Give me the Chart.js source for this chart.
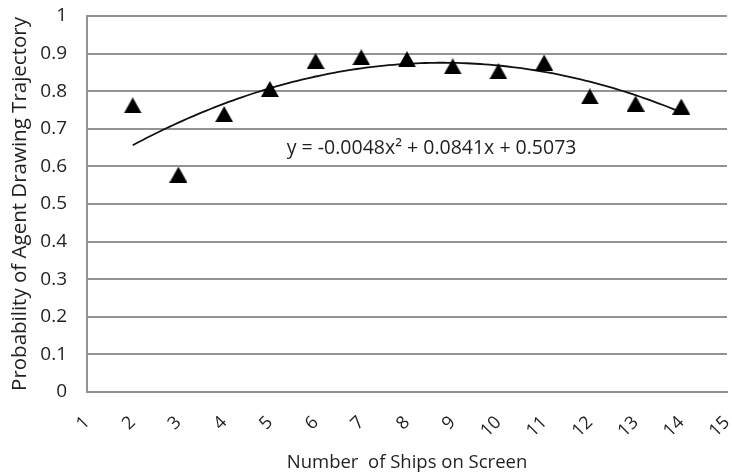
<!DOCTYPE html>
<html>
<head>
<meta charset="utf-8">
<script src="https://cdn.jsdelivr.net/npm/chart.js@4"></script>
<style>
  html, body { margin: 0; padding: 0; background: #ffffff; }
  #wrap { width: 732px; height: 474px; }
</style>
</head>
<body>
<div id="wrap"><canvas id="chart" width="732" height="474"></canvas></div>
<script>
// Observed probability per number of ships on screen
const shipCounts = [2, 3, 4, 5, 6, 7, 8, 9, 10, 11, 12, 13, 14];
const probabilities = [0.762, 0.578, 0.739, 0.806, 0.880, 0.890, 0.885, 0.866, 0.853, 0.876, 0.786, 0.767, 0.759];

// Polynomial trendline (order 2): a*x^2 + b*x + c
const trendCoefficients = [-0.0048, 0.0841, 0.5073];
const trendLabel = 'y = -0.0048x\u00B2 + 0.0841x + 0.5073';

const xTickLabels = ['1','2','3','4','5','6','7','8','9','10','11','12','13','14','15'];
const yTickLabels = ['0','0.1','0.2','0.3','0.4','0.5','0.6','0.7','0.8','0.9','1'];

const xTitle = 'Number  of Ships on Screen';
const yTitle = 'Probability of Agent Drawing Trajectory';

// Trendline sampled across the observed range
const trendPoints = [];
for (let x = shipCounts[0]; x <= shipCounts[shipCounts.length - 1] + 1e-9; x += 0.1) {
  const [a, b, c] = trendCoefficients;
  trendPoints.push({ x: x, y: a * x * x + b * x + c });
}

// Solid black triangle marker, centred in its own box
function triangleMarker(w, h) {
  const cv = document.createElement('canvas');
  cv.width = w; cv.height = h;
  const g = cv.getContext('2d');
  g.fillStyle = '#000000';
  g.beginPath();
  g.moveTo(w / 2, 0);
  g.lineTo(w, h);
  g.lineTo(0, h);
  g.closePath();
  g.fill();
  return cv;
}
const marker = triangleMarker(18, 16);

const TEXT = '#1f1f1f';
const GRID = '#939393';
const FONT = '"Open Sans", "DejaVu Sans", sans-serif';

// Equation text placed in data coordinates
const equationPlugin = {
  id: 'equationLabel',
  afterDatasetsDraw(chart) {
    const { ctx, scales } = chart;
    const px = scales.x.getPixelForValue(5.37);
    const py = scales.y.getPixelForValue(0.649);
    ctx.save();
    ctx.fillStyle = TEXT;
    ctx.font = '19.5px ' + FONT;
    ctx.textAlign = 'left';
    ctx.textBaseline = 'middle';
    ctx.fillText(trendLabel, px, py);
    ctx.restore();
  }
};

new Chart(document.getElementById('chart'), {
  type: 'scatter',
  data: {
    datasets: [
      {
        label: 'Trend',
        data: trendPoints,
        showLine: true,
        borderColor: '#111111',
        borderWidth: 1.8,
        pointRadius: 0,
        tension: 0,
        fill: false,
        order: 2
      },
      {
        label: 'Probability',
        data: shipCounts.map((x, i) => ({ x: x, y: probabilities[i] })),
        showLine: false,
        pointStyle: marker,
        pointRadius: 9,
        order: 1
      }
    ]
  },
  options: {
    responsive: false,
    animation: false,
    devicePixelRatio: 1,
    layout: { autoPadding: false, padding: { left: 0, right: 5, top: 16, bottom: 0 } },
    plugins: {
      legend: { display: false },
      tooltip: { enabled: false }
    },
    scales: {
      x: {
        type: 'linear',
        min: 1,
        max: 15,
        afterFit(axis) {
          axis.height = 82;
          axis.paddingLeft = 0;
          axis.paddingRight = 0;
        },
        grid: { display: false, drawTicks: false },
        border: { display: true, color: GRID, width: 2 },
        ticks: {
          stepSize: 1,
          autoSkip: false,
          minRotation: 45,
          maxRotation: 45,
          padding: 20,
          color: TEXT,
          font: { family: FONT, size: 18 },
          callback: (v) => xTickLabels[Math.round(v) - 1]
        },
        title: {
          display: true,
          text: xTitle,
          color: TEXT,
          font: { family: FONT, size: 18.5 },
          padding: { top: 0, bottom: 0 }
        }
      },
      y: {
        type: 'linear',
        min: 0,
        max: 1,
        afterFit(axis) {
          axis.width = 87;
          axis.paddingTop = 0;
          axis.paddingBottom = 0;
        },
        grid: { color: GRID, lineWidth: 2, drawTicks: false },
        border: { display: true, color: GRID, width: 2 },
        ticks: {
          stepSize: 0.1,
          padding: 20,
          color: TEXT,
          font: { family: FONT, size: 19 },
          callback: (v) => yTickLabels[Math.round(v * 10)]
        },
        title: {
          display: true,
          text: yTitle,
          color: TEXT,
          font: { family: FONT, size: 20.5 },
          padding: { top: 8, bottom: 0 }
        }
      }
    }
  },
  plugins: [equationPlugin]
});
</script>
</body>
</html>
